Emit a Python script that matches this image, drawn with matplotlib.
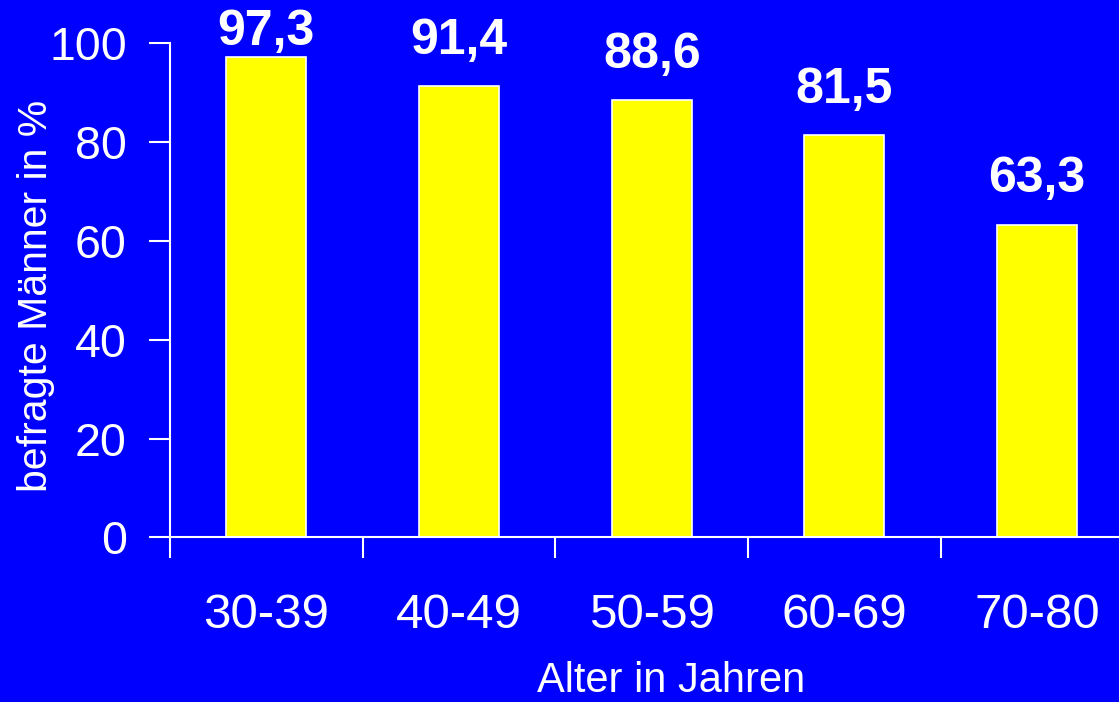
"""Bar chart: befragte Maenner nach Altersgruppe."""
import matplotlib
matplotlib.use('Agg')
import matplotlib.pyplot as plt

age_groups = ['30-39', '40-49', '50-59', '60-69', '70-80']
percent_values = [97.3, 91.4, 88.6, 81.5, 63.3]
y_ticks = [0, 20, 40, 60, 80, 100]

BLUE = '#0000FF'
YELLOW = '#FFFF00'
WHITE = '#FFFFFF'

plt.rcParams['font.family'] = ['Liberation Sans', 'DejaVu Sans']

fig = plt.figure(figsize=(11.19, 7.02), dpi=100, facecolor=BLUE)
# axes deliberately run past the right edge, like the original slide
ax = fig.add_axes([170 / 1119, 164.7 / 702, 963.5 / 1119, 494 / 702])
ax.set_facecolor(BLUE)

positions = list(range(len(age_groups)))
bars = ax.bar(positions, percent_values, width=0.415, color=YELLOW,
              edgecolor=WHITE, linewidth=1.2)

# value labels sit ~32 px above the bar, but never above the top of the frame
for bar, value in zip(bars, percent_values):
    label = f'{value:.1f}'.replace('.', ',')
    label_y = min(value + 6.5, 99.6)
    ax.text(bar.get_x() + bar.get_width() / 2, label_y, label,
            ha='center', va='baseline', color=WHITE,
            fontsize=36, fontweight='bold')

ax.set_xlim(-0.5, len(age_groups) - 0.5)
ax.set_ylim(0, 100)
ax.set_yticks(y_ticks)
ax.set_yticklabels([str(t) for t in y_ticks])

# ticks on the category boundaries, labels at the bar centres
ax.set_xticks([p - 0.5 for p in positions])
ax.set_xticklabels([])
ax.set_xticks(positions, minor=True)
ax.set_xticklabels(age_groups, minor=True)
ax.tick_params(axis='x', which='major', direction='out', length=15,
               width=1.5, color=WHITE)
ax.tick_params(axis='x', which='minor', length=0, pad=40,
               labelsize=35.5, labelcolor=WHITE)
ax.tick_params(axis='y', direction='out', length=15, width=1.5,
               color=WHITE, labelsize=33.5, labelcolor=WHITE, pad=16)

for side in ('top', 'right'):
    ax.spines[side].set_visible(False)
for side in ('left', 'bottom'):
    ax.spines[side].set_color(WHITE)
    ax.spines[side].set_linewidth(1.5)

fig.text(36 / 1119, 1 - 296 / 702, 'befragte Männer in %', rotation=90,
         ha='center', va='center', color=WHITE, fontsize=29.5)
fig.text(671 / 1119, 1 - 692 / 702, 'Alter in Jahren',
         ha='center', va='baseline', color=WHITE, fontsize=30)

fig.savefig('out.png', dpi=100, facecolor=BLUE)
